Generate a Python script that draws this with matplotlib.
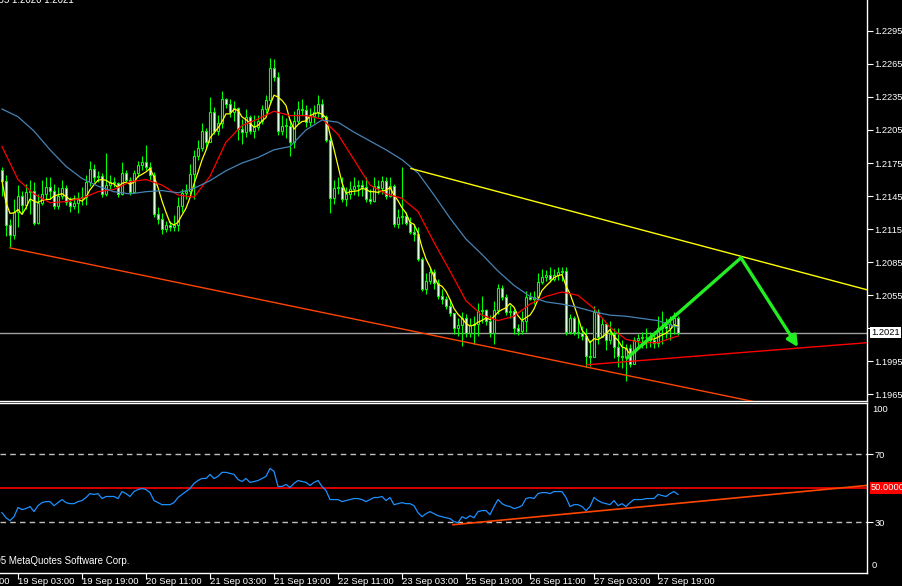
import matplotlib
matplotlib.use('Agg')
import matplotlib.pyplot as plt
from matplotlib.patches import Rectangle
import numpy as np
import pandas as pd

# hourly candles (price), open of each bar = previous close
open0 = 1.2169
closes = [
    1.2159, 1.2119, 1.2110, 1.2131, 1.2145, 1.2137, 1.2149, 1.2150, 1.2121, 1.2139,
    1.2147, 1.2153, 1.2150, 1.2136, 1.2145, 1.2152, 1.2140, 1.2136, 1.2139, 1.2143,
    1.2144, 1.2158, 1.2170, 1.2162, 1.2163, 1.2147, 1.2155, 1.2158, 1.2157, 1.2147,
    1.2166, 1.2160, 1.2149, 1.2166, 1.2173, 1.2176, 1.2171, 1.2164, 1.2129, 1.2124,
    1.2115, 1.2119, 1.2117, 1.2119, 1.2136, 1.2148, 1.2150, 1.2165, 1.2181, 1.2189,
    1.2204, 1.2194, 1.2221, 1.2204, 1.2211, 1.2233, 1.2229, 1.2221, 1.2225, 1.2206,
    1.2203, 1.2217, 1.2204, 1.2208, 1.2213, 1.2224, 1.2232, 1.2261, 1.2253, 1.2204,
    1.2209, 1.2209, 1.2194, 1.2213, 1.2224, 1.2223, 1.2212, 1.2218, 1.2221, 1.2229,
    1.2217, 1.2196, 1.2143, 1.2152, 1.2153, 1.2142, 1.2147, 1.2151, 1.2154, 1.2155,
    1.2153, 1.2142, 1.2141, 1.2154, 1.2152, 1.2159, 1.2145, 1.2154, 1.2120, 1.2126,
    1.2127, 1.2121, 1.2112, 1.2111, 1.2088, 1.2061, 1.2068, 1.2076, 1.2066, 1.2054,
    1.2052, 1.2045, 1.2039, 1.2025, 1.2028, 1.2034, 1.2021, 1.2028, 1.2029, 1.2041,
    1.2042, 1.2032, 1.2021, 1.2042, 1.2062, 1.2053, 1.2040, 1.2041, 1.2025, 1.2023,
    1.2032, 1.2053, 1.2052, 1.2053, 1.2067, 1.2072, 1.2073, 1.2070, 1.2073, 1.2076,
    1.2077, 1.2022, 1.2034, 1.2022, 1.2021, 1.2018, 1.2000, 1.1999, 1.2040, 1.2017,
    1.2029, 1.2014, 1.2020, 1.2008, 1.2000, 1.1999, 1.2007, 1.1993, 1.2014, 1.2016,
    1.2017, 1.2017, 1.2014, 1.2012, 1.2025, 1.2027, 1.2025, 1.2029, 1.2034, 1.2021,
]
highs = [
    1.2171, 1.2164, 1.2124, 1.2142, 1.2155, 1.2150, 1.2156, 1.2160, 1.2158, 1.2147,
    1.2160, 1.2162, 1.2162, 1.2156, 1.2153, 1.2160, 1.2155, 1.2144, 1.2146, 1.2149,
    1.2153, 1.2164, 1.2177, 1.2174, 1.2168, 1.2166, 1.2184, 1.2164, 1.2162, 1.2158,
    1.2176, 1.2169, 1.2162, 1.2169, 1.2177, 1.2181, 1.2191, 1.2176, 1.2167, 1.2135,
    1.2130, 1.2122, 1.2122, 1.2128, 1.2144, 1.2151, 1.2156, 1.2174, 1.2187, 1.2196,
    1.2211, 1.2207, 1.2235, 1.2226, 1.2219, 1.2240, 1.2234, 1.2233, 1.2231, 1.2226,
    1.2215, 1.2224, 1.2219, 1.2219, 1.2219, 1.2228, 1.2237, 1.2270, 1.2269, 1.2258,
    1.2219, 1.2216, 1.2215, 1.2222, 1.2231, 1.2233, 1.2228, 1.2225, 1.2228, 1.2237,
    1.2233, 1.2219, 1.2199, 1.2160, 1.2162, 1.2162, 1.2153, 1.2159, 1.2162, 1.2160,
    1.2160, 1.2162, 1.2151, 1.2162, 1.2160, 1.2163, 1.2162, 1.2162, 1.2156, 1.2133,
    1.2171, 1.2131, 1.2126, 1.2120, 1.2117, 1.2090, 1.2075, 1.2081, 1.2079, 1.2070,
    1.2061, 1.2054, 1.2052, 1.2036, 1.2034, 1.2040, 1.2038, 1.2034, 1.2036, 1.2048,
    1.2054, 1.2043, 1.2037, 1.2050, 1.2065, 1.2064, 1.2056, 1.2046, 1.2043, 1.2029,
    1.2041, 1.2059, 1.2058, 1.2059, 1.2075, 1.2079, 1.2078, 1.2081, 1.2079, 1.2081,
    1.2081, 1.2081, 1.2038, 1.2036, 1.2034, 1.2027, 1.2025, 1.2014, 1.2045, 1.2043,
    1.2034, 1.2029, 1.2032, 1.2025, 1.2025, 1.2014, 1.2011, 1.2011, 1.2017, 1.2020,
    1.2022, 1.2025, 1.2022, 1.2023, 1.2036, 1.2041, 1.2034, 1.2036, 1.2040, 1.2036,
]
lows = [
    1.2145, 1.2109, 1.2099, 1.2106, 1.2117, 1.2129, 1.2133, 1.2129, 1.2119, 1.2120,
    1.2137, 1.2142, 1.2142, 1.2133, 1.2133, 1.2142, 1.2137, 1.2131, 1.2133, 1.2130,
    1.2137, 1.2137, 1.2154, 1.2158, 1.2158, 1.2144, 1.2145, 1.2151, 1.2153, 1.2144,
    1.2146, 1.2158, 1.2146, 1.2149, 1.2162, 1.2169, 1.2169, 1.2160, 1.2126, 1.2120,
    1.2111, 1.2112, 1.2113, 1.2113, 1.2113, 1.2131, 1.2142, 1.2147, 1.2142, 1.2178,
    1.2186, 1.2189, 1.2196, 1.2201, 1.2200, 1.2207, 1.2225, 1.2217, 1.2213, 1.2196,
    1.2192, 1.2199, 1.2201, 1.2198, 1.2205, 1.2210, 1.2220, 1.2229, 1.2249, 1.2200,
    1.2200, 1.2198, 1.2181, 1.2189, 1.2210, 1.2219, 1.2208, 1.2209, 1.2211, 1.2217,
    1.2215, 1.2194, 1.2130, 1.2138, 1.2147, 1.2140, 1.2136, 1.2142, 1.2146, 1.2145,
    1.2145, 1.2140, 1.2138, 1.2140, 1.2147, 1.2147, 1.2142, 1.2144, 1.2117, 1.2116,
    1.2120, 1.2119, 1.2111, 1.2104, 1.2086, 1.2059, 1.2056, 1.2065, 1.2061, 1.2052,
    1.2047, 1.2043, 1.2036, 1.2020, 1.2018, 1.2009, 1.2017, 1.2017, 1.2011, 1.2018,
    1.2030, 1.2028, 1.2017, 1.2011, 1.2038, 1.2051, 1.2037, 1.2034, 1.2020, 1.2019,
    1.2020, 1.2022, 1.2051, 1.2047, 1.2051, 1.2065, 1.2068, 1.2067, 1.2068, 1.2069,
    1.2068, 1.2019, 1.2020, 1.2019, 1.2016, 1.2014, 1.1990, 1.1991, 1.2007, 1.2011,
    1.2017, 1.2005, 1.2011, 1.1998, 1.1990, 1.1989, 1.1977, 1.1990, 1.1998, 1.2007,
    1.2007, 1.2007, 1.2008, 1.2007, 1.2008, 1.2011, 1.2016, 1.2014, 1.2020, 1.2019,
]

# moving averages every 4 bars
ma_bars = list(range(0, 169, 4)) + [169]
ma_red = [
    1.2190, 1.2160, 1.2147, 1.2139, 1.2140, 1.2143, 1.2149, 1.2151, 1.2158, 1.2160,
    1.2155, 1.2146, 1.2144, 1.2163, 1.2194, 1.2209, 1.2215, 1.2222, 1.2218, 1.2218,
    1.2215, 1.2201, 1.2178, 1.2155, 1.2147, 1.2143, 1.2131, 1.2103, 1.2077, 1.2050,
    1.2037, 1.2032, 1.2036, 1.2047, 1.2054, 1.2058, 1.2055, 1.2043, 1.2026, 1.2015,
    1.2012, 1.2012, 1.2017, 1.2018,
]
ma_blue = [
    1.2224, 1.2217, 1.2204, 1.2187, 1.2172, 1.2161, 1.2154, 1.2149, 1.2147, 1.2149,
    1.2150, 1.2148, 1.2152, 1.2159, 1.2168, 1.2175, 1.2180, 1.2187, 1.2190, 1.2205,
    1.2214, 1.2212, 1.2203, 1.2195, 1.2187, 1.2178, 1.2166, 1.2146, 1.2125, 1.2106,
    1.2092, 1.2077, 1.2064, 1.2054, 1.2049, 1.2047, 1.2044, 1.2040, 1.2037, 1.2036,
    1.2034, 1.2032, 1.2027, 1.2026,
]

rsi = [
    35.5, 32.5, 30.8, 33.1, 38.5, 37.3, 37.9, 39.1, 36.1, 39.6,
    41.4, 42.0, 42.0, 39.6, 41.4, 43.2, 41.4, 40.8, 40.8, 42.0,
    42.6, 44.4, 46.7, 46.2, 46.7, 43.8, 45.0, 45.0, 45.0, 43.8,
    47.9, 46.7, 45.0, 47.9, 49.1, 49.7, 49.1, 47.3, 42.6, 41.4,
    40.2, 40.2, 40.2, 41.4, 44.4, 46.2, 47.9, 49.7, 52.7, 54.4,
    55.6, 55.6, 58.0, 55.6, 56.8, 59.2, 59.2, 58.6, 58.0, 55.0,
    53.8, 55.6, 53.3, 53.8, 54.4, 55.6, 56.8, 61.5, 59.8, 50.9,
    50.9, 52.1, 50.3, 52.7, 54.4, 53.8, 53.3, 51.5, 53.3, 54.4,
    50.9, 48.5, 43.2, 43.2, 43.2, 42.0, 42.6, 43.2, 43.8, 43.8,
    43.2, 42.0, 43.2, 44.4, 44.4, 45.0, 42.6, 44.4, 40.2, 40.8,
    41.4, 40.8, 40.8, 39.6, 35.5, 33.1, 34.9, 36.1, 34.9, 33.7,
    33.1, 32.5, 32.0, 30.2, 29.6, 33.1, 32.0, 33.7, 32.5, 36.1,
    36.7, 36.7, 34.3, 39.1, 43.2, 40.8, 39.6, 39.1, 37.9, 38.5,
    39.6, 43.8, 44.4, 43.8, 46.7, 47.3, 47.3, 46.7, 47.9, 47.9,
    47.9, 44.4, 39.1, 40.2, 40.2, 39.1, 36.7, 39.1, 44.4, 42.6,
    41.4, 40.8, 40.2, 42.6, 39.6, 40.8, 39.1, 41.4, 43.2, 43.2,
    43.2, 43.8, 43.8, 43.8, 46.2, 45.6, 45.0, 46.7, 47.9, 46.2,
]

# hand drawn objects (bar index, value)
lower_channel = ([2, 190], [1.2098, 1.1957])
upper_line = ([102.25, 216.25], [1.2170, 1.2060])
support_line = ([146.25, 216.25], [1.1992, 1.2012])
arrow_bars = [156.25, 184.75, 199]
arrow_prices = [1.1998, 1.2089, 1.2008]
rsi_trend = ([112.75, 216.25], [28.4, 51.5])
last_price = 1.2021

time_ticks = [-12, 4, 20, 36, 52, 68, 84, 100, 116, 132, 148, 164]
time_labels = ['18 Sep 11:00', '19 Sep 03:00', '19 Sep 19:00', '20 Sep 11:00',
               '21 Sep 03:00', '21 Sep 19:00', '22 Sep 11:00', '23 Sep 03:00',
               '25 Sep 19:00', '26 Sep 11:00', '27 Sep 03:00', '27 Sep 19:00']
price_ticks = [1.1965, 1.1995, 1.2025, 1.2055, 1.2085, 1.2115, 1.2145,
               1.2175, 1.2205, 1.2235, 1.2265, 1.2295]

plt.rcParams['font.family'] = 'Liberation Sans'
plt.rcParams['font.size'] = 7

W, H = 903, 586
fig = plt.figure(figsize=(W / 100, H / 100), dpi=100, facecolor='black')


def box(l, t, r, b):
    return [l / W, 1 - b / H, (r - l) / W, (b - t) / H]


ax = fig.add_axes(box(0, 0, 867, 401), facecolor='black')
rx = fig.add_axes(box(0, 403, 867, 573), facecolor='black')

for a in (ax, rx):
    a.set_xlim(-0.5, 216.25)
    for s in a.spines.values():
        s.set_color('white')
        s.set_linewidth(1)
    a.spines['left'].set_visible(False)
    a.yaxis.tick_right()
    a.tick_params(colors='white', length=4, width=0.8, labelsize=6.7, pad=1.2)
ax.spines['top'].set_visible(False)
ax.set_ylim(1.19591, 1.23229)
ax.set_xticks([])
rx.set_ylim(0, 100)

# candles
n = len(closes)
idx = np.arange(n)
opens = [open0] + closes[:-1]
hi = np.maximum(np.maximum(highs, opens), closes)
lo = np.minimum(np.minimum(lows, opens), closes)
ax.vlines(idx, lo, hi, color='#00ff00', lw=0.8, zorder=2)
for i in range(n):
    o, c = opens[i], closes[i]
    face = 'black' if c >= o else 'white'
    ax.add_patch(Rectangle((i - 0.25, min(o, c)), 0.5, max(abs(c - o), 0.00002),
                           facecolor=face, edgecolor='#00ff00', lw=0.8, zorder=3))

yellow = pd.Series(closes).rolling(5, min_periods=1).mean()
ax.plot(idx, yellow, color='#ffff00', lw=0.9, zorder=4)
ax.plot(ma_bars, ma_red, color='#ff0000', lw=0.9, zorder=4)
ax.plot(ma_bars, ma_blue, color='#4682b4', lw=0.9, zorder=4)

ax.axhline(last_price, color='#a0a0a0', lw=1, zorder=1)
ax.plot(*lower_channel, color='#ff4500', lw=1, zorder=4)
ax.plot(*upper_line, color='#ffff00', lw=1, zorder=4)
ax.plot(*support_line, color='#ff0000', lw=1, zorder=4)
ax.plot(arrow_bars[:2], arrow_prices[:2], color='#22ee22', lw=2.4, zorder=5,
        solid_capstyle='round')
ax.annotate('', xy=(arrow_bars[2], arrow_prices[2]), xytext=(arrow_bars[1], arrow_prices[1]),
            arrowprops=dict(arrowstyle='-|>', color='#22ee22', lw=2.4,
                            mutation_scale=16, shrinkA=0, shrinkB=0), zorder=5)

# the 1.2025 label sits behind the last-price box
ax.set_yticks(price_ticks)
ax.set_yticklabels(['' if p == 1.2025 else '%.4f' % p for p in price_ticks])

# RSI panel
rx.axhline(70, color='#c0c0c0', lw=1, ls=(0, (4, 3)))
rx.axhline(30, color='#c0c0c0', lw=1, ls=(0, (4, 3)))
rx.axhline(50, color='#ff0000', lw=1.2)
rx.plot(idx, rsi, color='#1e90ff', lw=0.9)
rx.plot(*rsi_trend, color='#ff4500', lw=1.2)
rx.set_yticks([30, 70])
rx.set_yticklabels(['30', '70'])
rx.set_xticks([t for t in time_ticks if t >= 0])
rx.set_xticklabels([])
for t, lab in zip(time_ticks, time_labels):
    rx.annotate(lab, xy=(t, 0), xycoords=('data', 'axes fraction'), xytext=(0, -4),
                textcoords='offset pixels', ha='left', va='top', color='white',
                fontsize=6.8, annotation_clip=False)

# texts outside the panels
fig.text(872 / W, 1 - 410 / H, '100', color='white', va='center', fontsize=6.7)
fig.text(872 / W, 1 - 566 / H, '0', color='white', va='center', fontsize=6.7)
fig.text(872 / W, 1 - (-2) / H, '1.2325', color='white', va='center', fontsize=6.7)
fig.text(871 / W, 1 - 332.5 / H, '%.4f' % last_price, color='black', va='center', fontsize=6.7,
         bbox=dict(boxstyle='square,pad=0.15', fc='white', ec='none'))
fig.text(871 / W, 1 - 488 / H, '50.0000', color='white', va='center', fontsize=6.7,
         bbox=dict(boxstyle='square,pad=0.15', fc='#ff0000', ec='none'))
fig.text(74 / W, 1 - 3 / H, 'EURUSD,H1  1.2024 1.2035 1.2020 1.2021', color='white',
         ha='right', va='baseline', fontsize=7)
fig.text(129 / W, 1 - 561 / H, '\u00a9 2001-2005 MetaQuotes Software Corp.', color='white',
         ha='right', va='center', fontsize=7)

fig.savefig('out.png', dpi=100, facecolor='black')
